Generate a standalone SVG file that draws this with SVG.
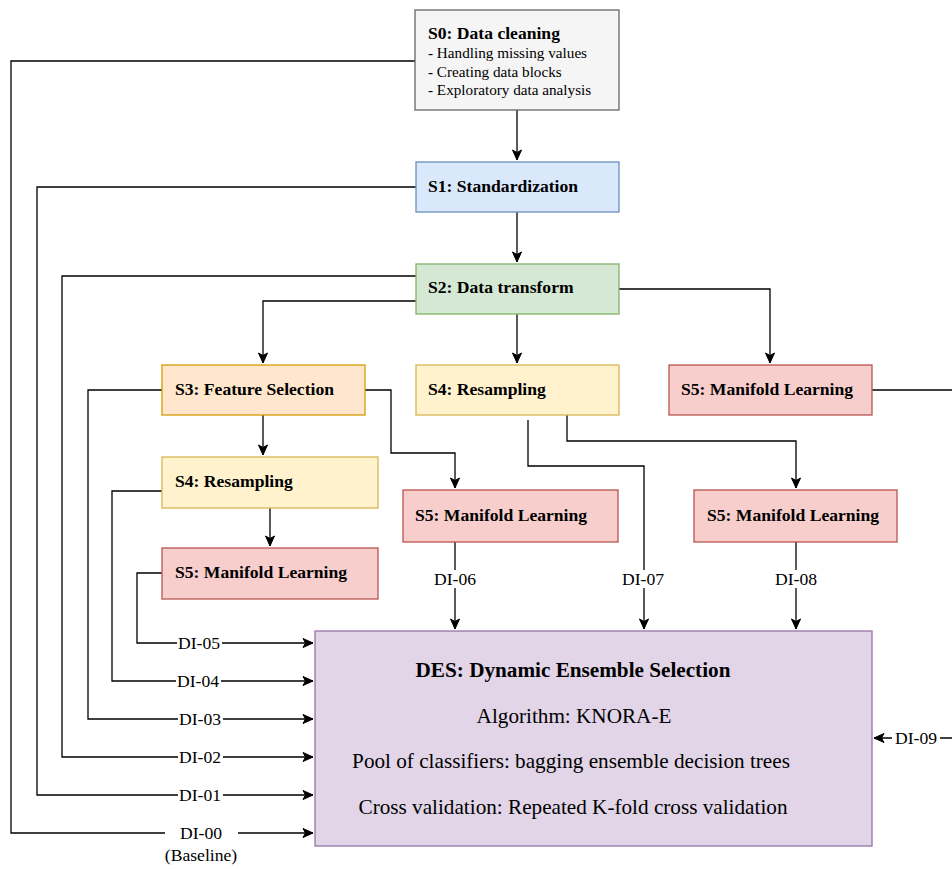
<svg xmlns="http://www.w3.org/2000/svg" width="952" height="869" viewBox="0 0 952 869">
<style>
.t{font-family:"Liberation Serif","Times New Roman",serif;fill:#000}
.b{font-weight:bold;font-size:17.6px}
.s{font-size:15.2px}
.l{font-size:17.6px;text-anchor:middle}
.d{font-size:21.2px;text-anchor:middle}
.c{fill:none;stroke:#000;stroke-width:1.3}
.bg{fill:#fff}
</style>
<defs>
<marker id="a" markerUnits="userSpaceOnUse" markerWidth="12" markerHeight="12" viewBox="0 0 12 12" refX="11" refY="6" orient="auto">
<path d="M1,1.5 L11,6 L1,10.5 L3.5,6 Z" fill="#000" stroke="#000" stroke-width="1"/>
</marker>
</defs>
<rect width="952" height="869" fill="#fff"/>
<g id="connectors">
<path class="c" d="M517,110 V160" marker-end="url(#a)"/>
<path class="c" d="M517,212 V262" marker-end="url(#a)"/>
<path class="c" d="M517,314 V363" marker-end="url(#a)"/>
<path class="c" d="M416,301 H263 V363" marker-end="url(#a)"/>
<path class="c" d="M619,289 H770 V363" marker-end="url(#a)"/>
<path class="c" d="M872,390 H952"/>
<path class="c" d="M263,415 V455" marker-end="url(#a)"/>
<path class="c" d="M270,508 V546" marker-end="url(#a)"/>
<path class="c" d="M365,390 H391 V453 H455 V488" marker-end="url(#a)"/>
<path class="c" d="M567,415 V441 H796 V488" marker-end="url(#a)"/>
<path class="c" d="M528,420 V466 H644 V629" marker-end="url(#a)"/>
<path class="c" d="M455,542 V629" marker-end="url(#a)"/>
<path class="c" d="M796,542 V629" marker-end="url(#a)"/>
<path class="c" d="M415,61 H11 V833 H165"/>
<path class="c" d="M238,833 H313" marker-end="url(#a)"/>
<path class="c" d="M416,187 H37 V795 H313" marker-end="url(#a)"/>
<path class="c" d="M416,276 H62 V757 H313" marker-end="url(#a)"/>
<path class="c" d="M162,390 H88 V719 H313" marker-end="url(#a)"/>
<path class="c" d="M162,491 H112 V681 H313" marker-end="url(#a)"/>
<path class="c" d="M162,573 H137 V643 H313" marker-end="url(#a)"/>
<path class="c" d="M952,738 H874" marker-end="url(#a)"/>
<rect class="bg" x="177" y="634" width="45" height="18"/>
<text class="t l" x="199" y="649">DI-05</text>
<rect class="bg" x="176" y="672" width="45" height="18"/>
<text class="t l" x="198" y="687">DI-04</text>
<rect class="bg" x="178" y="710" width="45" height="18"/>
<text class="t l" x="200" y="725">DI-03</text>
<rect class="bg" x="178" y="748" width="45" height="18"/>
<text class="t l" x="200" y="763">DI-02</text>
<rect class="bg" x="178" y="786" width="45" height="18"/>
<text class="t l" x="200" y="801">DI-01</text>
<text class="t l" x="201" y="839">DI-00</text>
<text class="t l" x="201" y="861">(Baseline)</text>
<rect class="bg" x="433" y="570" width="44" height="18"/>
<text class="t l" x="455" y="585">DI-06</text>
<rect class="bg" x="621" y="570" width="46" height="18"/>
<text class="t l" x="643" y="585">DI-07</text>
<rect class="bg" x="774" y="570" width="44" height="18"/>
<text class="t l" x="796" y="585">DI-08</text>
<rect class="bg" x="892" y="729" width="48" height="18"/>
<text class="t l" x="916" y="744">DI-09</text>
</g>
<g id="S0">
<rect x="415" y="10" width="204" height="100" fill="#f5f5f5" stroke="#666" stroke-width="1.3"/>
<text class="t b" x="428" y="39">S0: Data cleaning</text>
<text class="t s" x="428" y="58">- Handling missing values</text>
<text class="t s" x="428" y="77">- Creating data blocks</text>
<text class="t s" x="428" y="95">- Exploratory data analysis</text>
</g>
<g id="S1">
<rect x="416" y="162" width="203" height="50" fill="#dae8fc" stroke="#6c8ebf" stroke-width="1.3"/>
<text class="t b" x="428" y="192">S1: Standardization</text>
</g>
<g id="S2">
<rect x="416" y="264" width="203" height="50" fill="#d5e8d4" stroke="#82b366" stroke-width="1.3"/>
<text class="t b" x="428" y="293">S2: Data transform</text>
</g>
<g id="S3">
<rect x="162" y="365" width="203" height="50" fill="#ffe6cc" stroke="#d79b00" stroke-width="1.3"/>
<text class="t b" x="175" y="395">S3: Feature Selection</text>
</g>
<g id="S4c">
<rect x="416" y="365" width="203" height="50" fill="#fff2cc" stroke="#d6b656" stroke-width="1.3"/>
<text class="t b" x="428" y="395">S4: Resampling</text>
</g>
<g id="S5r">
<rect x="669" y="365" width="203" height="50" fill="#f8cecc" stroke="#b85450" stroke-width="1.3"/>
<text class="t b" x="681" y="395">S5: Manifold Learning</text>
</g>
<g id="S4l">
<rect x="162" y="457" width="216" height="51" fill="#fff2cc" stroke="#d6b656" stroke-width="1.3"/>
<text class="t b" x="175" y="487">S4: Resampling</text>
</g>
<g id="S5l">
<rect x="162" y="548" width="216" height="51" fill="#f8cecc" stroke="#b85450" stroke-width="1.3"/>
<text class="t b" x="175" y="578">S5: Manifold Learning</text>
</g>
<g id="S5m">
<rect x="403" y="490" width="215" height="52" fill="#f8cecc" stroke="#b85450" stroke-width="1.3"/>
<text class="t b" x="415" y="521">S5: Manifold Learning</text>
</g>
<g id="S5rl">
<rect x="694" y="490" width="203" height="52" fill="#f8cecc" stroke="#b85450" stroke-width="1.3"/>
<text class="t b" x="707" y="521">S5: Manifold Learning</text>
</g>
<g id="DES">
<rect x="315" y="631" width="557" height="215" fill="#e1d5e7" stroke="#9673a6" stroke-width="1.3"/>
<text class="t d" x="573" y="677" font-weight="bold">DES: Dynamic Ensemble Selection</text>
<text class="t d" x="574" y="723">Algorithm: KNORA-E</text>
<text class="t d" x="571" y="768">Pool of classifiers: bagging ensemble decision trees</text>
<text class="t d" x="573" y="814">Cross validation: Repeated K-fold cross validation</text>
</g>
</svg>
